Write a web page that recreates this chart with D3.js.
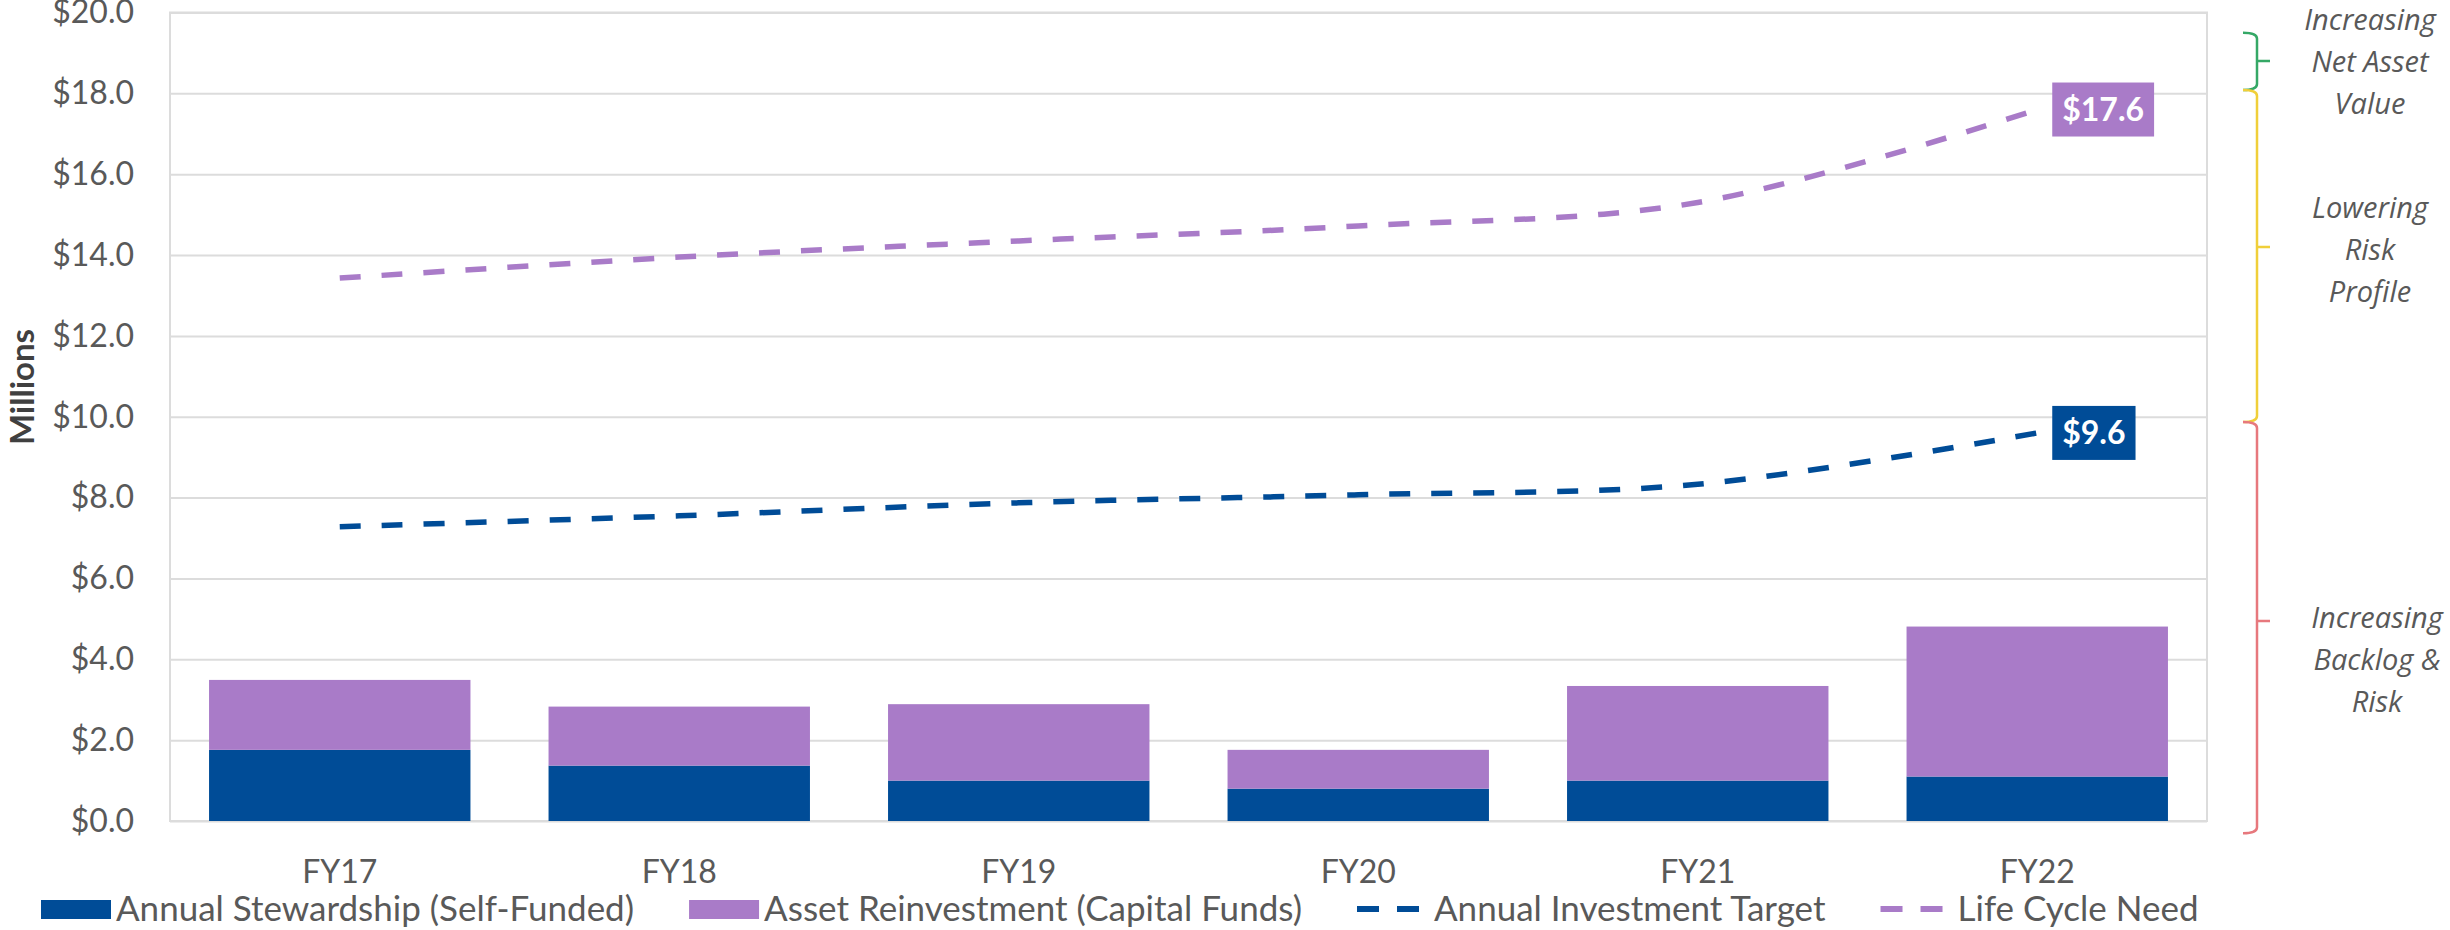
<!DOCTYPE html>
<html lang="en">
  <head>
    <meta charset="utf-8" />
    <script src="https://d3js.org/d3.v7.min.js"></script>
    <style>
      body {
        margin: 0;
        background: #ffffff;
      }
      text {
        font-family: Lato, "Open Sans", sans-serif;
      }
      .gridlines .domain {
        display: none;
      }
    </style>
    <title>Stewardship vs Life Cycle Need</title>
  </head>

  <body>
    <svg id="chart" width="2450" height="930"></svg>

    <script>
      // values, in $ millions
      const years = ["FY17", "FY18", "FY19", "FY20", "FY21", "FY22"];
      const stewardship = [1.76, 1.37, 1.0, 0.8, 1.0, 1.1];
      const reinvestment = [1.73, 1.46, 1.89, 0.96, 2.34, 3.71];
      const investmentTarget = [7.28, 7.55, 7.87, 8.07, 8.33, 9.6];
      const lifeCycleNeed = [13.43, 13.95, 14.35, 14.72, 15.3, 17.6];
      const yTicks = [0, 2, 4, 6, 8, 10, 12, 14, 16, 18, 20];

      const legendLabels = [
        "Annual Stewardship (Self-Funded)",
        "Asset Reinvestment (Capital Funds)",
        "Annual Investment Target",
        "Life Cycle Need",
      ];

      // brackets on the right, in value units
      const bracketTop = [19.5, 18.08, 9.87];
      const bracketBottom = [18.08, 9.87, -0.3];
      const bracketMid = [18.8, 14.2, 4.95];
      const bracketTextMid = [18.78, 14.12, 3.98];
      const bracketText = [
        ["Increasing", "Net Asset", "Value"],
        ["Lowering", "Risk", "Profile"],
        ["Increasing", "Backlog &", "Risk"],
      ];

      const blue = "#004c97";
      const purple = "#a97bc8";
      const bracketColors = ["#35a866", "#f0cf3a", "#e7787d"];

      const svg = d3.select("svg#chart");
      const plot = { left: 170, right: 2207, top: 12.5, bottom: 821 };

      const x = d3
        .scaleBand()
        .domain(years)
        .range([plot.left, plot.right])
        .paddingInner(0.23)
        .paddingOuter(0.115);

      const y = d3.scaleLinear().domain([0, 20]).range([plot.bottom, plot.top]);

      const cx = d => x(d) + x.bandwidth() / 2;

      // gridlines + tick labels
      const leftAxis = d3
        .axisLeft(y)
        .tickValues(yTicks)
        .tickSize(-(plot.right - plot.left))
        .tickPadding(36)
        .tickFormat(d => "$" + d.toFixed(1));

      const axisG = svg
        .append("g")
        .attr("class", "gridlines")
        .attr("transform", `translate(${plot.left},0)`)
        .call(leftAxis);

      axisG.selectAll("line").attr("stroke", "#dcdcdc").attr("stroke-width", 2);
      axisG
        .selectAll("text")
        .attr("fill", "#595959")
        .style("font-size", "32px");

      // plot area border
      svg
        .append("rect")
        .attr("x", plot.left)
        .attr("y", plot.top)
        .attr("width", plot.right - plot.left)
        .attr("height", plot.bottom - plot.top)
        .attr("fill", "none")
        .attr("stroke", "#dcdcdc")
        .attr("stroke-width", 2);

      // stacked bars
      const stack = years.map((yr, i) => ({
        year: yr,
        s: stewardship[i],
        r: reinvestment[i],
      }));

      svg
        .append("g")
        .selectAll("rect")
        .data(stack)
        .join("rect")
        .attr("x", d => x(d.year))
        .attr("width", x.bandwidth())
        .attr("y", d => y(d.s))
        .attr("height", d => y(0) - y(d.s))
        .attr("fill", blue);

      svg
        .append("g")
        .selectAll("rect")
        .data(stack)
        .join("rect")
        .attr("x", d => x(d.year))
        .attr("width", x.bandwidth())
        .attr("y", d => y(d.s + d.r))
        .attr("height", d => y(d.s) - y(d.s + d.r))
        .attr("fill", purple);

      // dashed smoothed lines
      const line = d3
        .line()
        .x((d, i) => cx(years[i]))
        .y(d => y(d))
        .curve(d3.curveCatmullRom);

      [
        [lifeCycleNeed, purple],
        [investmentTarget, blue],
      ].forEach(([vals, color]) => {
        svg
          .append("path")
          .datum(vals)
          .attr("fill", "none")
          .attr("stroke", color)
          .attr("stroke-width", 5.5)
          .attr("stroke-dasharray", "21,21")
          .attr("d", line);

        // end value label box
        const last = vals[vals.length - 1];
        const lx = cx(years[years.length - 1]) + 15;
        const g = svg.append("g");
        const t = g
          .append("text")
          .attr("x", lx + 10)
          .attr("y", y(last))
          .attr("dy", "0.35em")
          .attr("fill", "white")
          .attr("font-weight", "bold")
          .style("font-size", "32px")
          .text("$" + last.toFixed(1));
        const w = t.node().getComputedTextLength();
        g.insert("rect", "text")
          .attr("x", lx)
          .attr("y", y(last) - 27)
          .attr("width", w + 20)
          .attr("height", 54)
          .attr("fill", color);
      });

      // category labels
      svg
        .append("g")
        .selectAll("text")
        .data(years)
        .join("text")
        .attr("x", d => cx(d))
        .attr("y", 883)
        .attr("text-anchor", "middle")
        .attr("fill", "#595959")
        .style("font-size", "32px")
        .text(d => d);

      // y axis title
      svg
        .append("text")
        .attr("transform", "translate(34,387) rotate(-90)")
        .attr("text-anchor", "middle")
        .attr("font-weight", "bold")
        .attr("fill", "#404040")
        .style("font-size", "33px")
        .text("Millions");

      // legend
      const legend = svg.append("g");
      let lxPos = 41;
      const legendY = 909;
      legendLabels.forEach((label, i) => {
        const color = i % 2 === 0 ? blue : purple;
        if (i < 2) {
          legend
            .append("rect")
            .attr("x", lxPos)
            .attr("y", legendY - 9)
            .attr("width", 70)
            .attr("height", 19)
            .attr("fill", color);
        } else {
          legend
            .append("line")
            .attr("x1", lxPos)
            .attr("x2", lxPos + 62)
            .attr("y1", legendY)
            .attr("y2", legendY)
            .attr("stroke", color)
            .attr("stroke-width", 6)
            .attr("stroke-dasharray", "22,18");
        }
        const sw = i < 2 ? 75 : 77;
        const t = legend
          .append("text")
          .attr("x", lxPos + sw)
          .attr("y", legendY)
          .attr("dy", "0.35em")
          .attr("fill", "#595959")
          .style("font-size", "35px")
          .text(label);
        lxPos += sw + t.node().getComputedTextLength() + 55;
      });

      // brackets and notes on the right
      const bx = 2257;
      bracketTop.forEach((top, i) => {
        const y0 = y(top);
        const y1 = y(bracketBottom[i]);
        const ym = y(bracketMid[i]);
        svg
          .append("path")
          .attr(
            "d",
            `M${bx - 14},${y0} Q${bx},${y0} ${bx},${y0 + 6} V${y1 - 6} Q${bx},${y1} ${bx - 14},${y1} M${bx},${ym} H${bx + 13}`
          )
          .attr("fill", "none")
          .attr("stroke", bracketColors[i])
          .attr("stroke-width", 2.5);

        const lines = bracketText[i];
        const tm = y(bracketTextMid[i]);
        svg
          .append("g")
          .selectAll("text")
          .data(lines)
          .join("text")
          .attr("x", i === 2 ? 2377 : 2370)
          .attr("y", (d, j) => tm + (j - 1) * 42)
          .attr("dy", "0.35em")
          .attr("text-anchor", "middle")
          .attr("fill", "#595959")
          .style("font-family", "'Open Sans', sans-serif")
          .style("font-style", "italic")
          .style("font-size", "29px")
          .text(d => d);
      });
    </script>
  </body>
</html>
